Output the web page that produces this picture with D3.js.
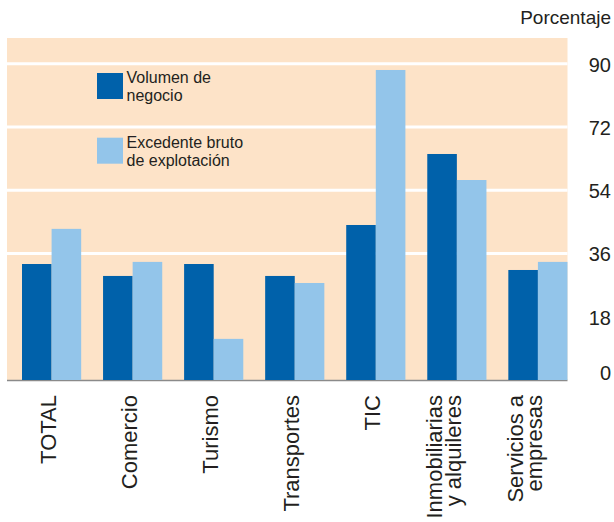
<!DOCTYPE html>
<html>
<head>
<meta charset="utf-8">
<script src="https://cdn.jsdelivr.net/npm/d3@7"></script>
<style>
  body { margin: 0; background: #ffffff; }
  text { font-family: "Liberation Sans", Arial, sans-serif; fill: #231f20; }
</style>
</head>
<body>
<div id="chart"></div>
<script>
// Chart data
var categories = ["TOTAL", "Comercio", "Turismo", "Transportes", "TIC", "Inmobiliarias\ny alquileres", "Servicios a\nempresas"];
var seriesNames = ["Volumen de negocio", "Excedente bruto de explotación"];
var volumenNegocio = [33.0, 29.6, 33.0, 29.6, 44.1, 64.3, 31.3];
var excedenteBruto = [43.0, 33.6, 11.7, 27.6, 88.2, 56.9, 33.6];
var yTicks = [0, 18, 36, 54, 72, 90];
var gridTicks = [36, 54, 72, 90];
var legendLines = [["Volumen de", "negocio"], ["Excedente bruto", "de explotación"]];
var unitLabel = "Porcentaje";

var colors = ["#0061aa", "#93c5ea"];

var width = 614, height = 522;
var plotLeft = 7, plotRight = 567.5, plotTop = 38, plotBottom = 380;

var svg = d3.select("#chart").append("svg")
    .attr("width", width)
    .attr("height", height);

// Scales
var x = d3.scaleBand()
    .domain(categories)
    .range([22, plotRight])
    .paddingInner(0.27)
    .paddingOuter(0);

var xInner = d3.scaleBand()
    .domain(seriesNames)
    .range([0, x.bandwidth()]);

var y = d3.scaleLinear()
    .domain([0, 97.3])
    .range([plotBottom, plotTop]);

// Background
svg.append("rect")
    .attr("x", plotLeft)
    .attr("y", plotTop)
    .attr("width", plotRight - plotLeft)
    .attr("height", plotBottom - plotTop)
    .attr("fill", "#fde3c8");

// White gridlines
svg.selectAll("line.grid")
    .data(gridTicks)
    .enter().append("line")
    .attr("class", "grid")
    .attr("x1", plotLeft)
    .attr("x2", plotRight)
    .attr("y1", function(d) { return y(d); })
    .attr("y2", function(d) { return y(d); })
    .attr("stroke", "#ffffff")
    .attr("stroke-width", 3);

// Baseline
svg.append("line")
    .attr("x1", plotLeft)
    .attr("x2", plotRight)
    .attr("y1", plotBottom + 0.5)
    .attr("y2", plotBottom + 0.5)
    .attr("stroke", "#8a8a8a")
    .attr("stroke-width", 1.5);

// Bars
var rows = categories.map(function(c, i) {
    return { cat: c, values: [volumenNegocio[i], excedenteBruto[i]] };
});

var groups = svg.selectAll("g.group")
    .data(rows)
    .enter().append("g")
    .attr("class", "group")
    .attr("transform", function(d) { return "translate(" + x(d.cat) + ",0)"; });

groups.selectAll("rect")
    .data(function(d) {
        return d.values.map(function(v, j) { return { name: seriesNames[j], value: v, idx: j }; });
    })
    .enter().append("rect")
    .attr("x", function(d) { return xInner(d.name); })
    .attr("y", function(d) { return y(d.value); })
    .attr("width", xInner.bandwidth())
    .attr("height", function(d) { return y(0) - y(d.value); })
    .attr("fill", function(d) { return colors[d.idx]; });

// Right-side tick labels
svg.selectAll("text.tick")
    .data(yTicks)
    .enter().append("text")
    .attr("class", "tick")
    .attr("x", 611)
    .attr("y", function(d) { return Math.min(y(d) + 1, y(0) - 7.5); })
    .attr("dy", "0.35em")
    .attr("text-anchor", "end")
    .style("font-size", "20px")
    .text(function(d) { return d; });

// Unit label
svg.append("text")
    .attr("x", 611)
    .attr("y", 23.5)
    .attr("text-anchor", "end")
    .style("font-size", "19px")
    .text(unitLabel);

// Category labels (rotated)
var catLabels = svg.selectAll("g.catlabel")
    .data(categories)
    .enter().append("g")
    .attr("class", "catlabel")
    .attr("transform", function(d) {
        return "translate(" + (x(d) + x.bandwidth() / 2 + 4) + ",395) rotate(-90)";
    });

catLabels.each(function(d) {
    var lines = d.split("\n");
    var g = d3.select(this);
    lines.forEach(function(line, i) {
        g.append("text")
            .attr("x", 0)
            .attr("y", (i - (lines.length - 1)) * 19)
            .attr("text-anchor", "end")
            .style("font-size", "22px")
            .text(line);
    });
});

// Legend
var legendTops = [73, 137.7];
var legend = svg.selectAll("g.legend")
    .data(legendLines)
    .enter().append("g")
    .attr("class", "legend")
    .attr("transform", function(d, i) { return "translate(97," + legendTops[i] + ")"; });

legend.append("rect")
    .attr("width", 26)
    .attr("height", 26)
    .attr("fill", function(d, i) { return colors[i]; });

legend.each(function(d) {
    var g = d3.select(this);
    d.forEach(function(line, i) {
        g.append("text")
            .attr("x", 29.5)
            .attr("y", 10 + i * 18.2)
            .style("font-size", "16px")
            .text(line);
    });
});
</script>
</body>
</html>
